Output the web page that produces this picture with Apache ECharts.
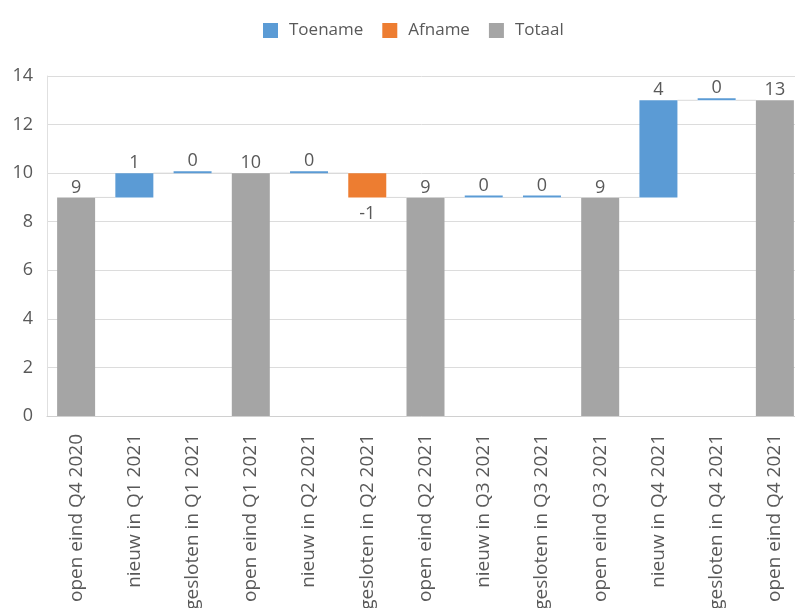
<!DOCTYPE html>
<html><head><meta charset="utf-8">
<script src="https://cdn.jsdelivr.net/npm/echarts@6/dist/echarts.min.js"></script>
<style>html,body{margin:0;padding:0;background:#fff}#c{width:795px;height:608px}</style>
</head><body><div id="c"></div>
<script>
const categories = ["open eind Q4 2020","nieuw in Q1 2021","gesloten in Q1 2021","open eind Q1 2021","nieuw in Q2 2021","gesloten in Q2 2021","open eind Q2 2021","nieuw in Q3 2021","gesloten in Q3 2021","open eind Q3 2021","nieuw in Q4 2021","gesloten in Q4 2021","open eind Q4 2021"];
const values = [9, 1, 0, 10, 0, -1, 9, 0, 0, 9, 4, 0, 13];
const isTotal = [true, false, false, true, false, false, true, false, false, true, false, false, true];
const yTicks = [0, 2, 4, 6, 8, 10, 12, 14];

const FONT = "'Open Sans', sans-serif";
const TXT = '#595959';
const BAR_W = 38;

// derive stacked series from the data
const base = [], up = [], down = [], tot = [], running = [];
let run = 0;
values.forEach((v, i) => {
  if (isTotal[i]) {
    run = v; base.push('-'); up.push('-'); down.push('-'); tot.push(v);
  } else if (v >= 0) {
    base.push(run); up.push(v); down.push('-'); tot.push('-'); run += v;
  } else {
    base.push(run + v); up.push('-'); down.push(-v); tot.push('-'); run += v;
  }
  running.push(run);
});
const connData = running.slice(0, -1).map((v, i) => [i, v]);

const chart = echarts.init(document.getElementById('c'), null, {renderer: 'canvas'});
const lbl = (pos, dist, fmt) => ({show: true, position: pos, distance: dist, color: TXT, fontSize: 18, fontFamily: FONT, formatter: fmt});
chart.setOption({
  animation: false,
  textStyle: {fontFamily: FONT},
  legend: {
    top: 17, left: 258, itemWidth: 15, itemHeight: 15, itemGap: 19, icon: 'rect',
    textStyle: {color: TXT, fontSize: 17, fontFamily: FONT, padding: [0, 0, 0, 6]},
    data: ['Toename', 'Afname', 'Totaal']
  },
  grid: {left: 47, top: 76, width: 757, height: 340, containLabel: false, outerBoundsMode: 'none'},
  xAxis: {
    type: 'category', data: categories,
    axisLine: {lineStyle: {color: '#D0D0D0', width: 1}},
    axisTick: {show: false},
    axisLabel: {rotate: 90, color: TXT, fontSize: 19, fontFamily: FONT, margin: 18, interval: 0}
  },
  yAxis: {
    type: 'value', min: yTicks[0], max: yTicks[yTicks.length - 1], interval: 2,
    axisLine: {show: true, lineStyle: {color: '#E0E0E0'}},
    axisTick: {show: false},
    splitLine: {lineStyle: {color: '#DCDCDC', width: 1}},
    axisLabel: {color: TXT, fontSize: 18, fontFamily: FONT, margin: 14}
  },
  series: [
    {name: 'base', type: 'bar', stack: 'w', data: base, barWidth: BAR_W, itemStyle: {color: 'transparent'}, silent: true},
    {name: 'Toename', type: 'bar', stack: 'w', data: up, barWidth: BAR_W, barMinHeight: 2, itemStyle: {color: '#5B9BD5'}, label: lbl('top', 1, p => p.value)},
    {name: 'Afname', type: 'bar', stack: 'w', data: down, barWidth: BAR_W, itemStyle: {color: '#ED7D31'}, label: lbl('bottom', 7, p => '-' + p.value)},
    {name: 'Totaal', type: 'bar', stack: 'w', data: tot, barWidth: BAR_W, itemStyle: {color: '#A5A5A5'}, label: lbl('top', 1, p => p.value)},
    {
      name: 'conn', type: 'custom', data: connData, silent: true, z: 1,
      renderItem: (params, api) => {
        const i = api.value(0), v = api.value(1);
        const a = api.coord([i, v]), b = api.coord([i + 1, v]);
        return {type: 'line', shape: {x1: a[0] + BAR_W / 2, y1: a[1], x2: b[0] - BAR_W / 2, y2: b[1]},
                style: {stroke: '#D9D9D9', lineWidth: 1}};
      }
    }
  ]
});
</script></body></html>
